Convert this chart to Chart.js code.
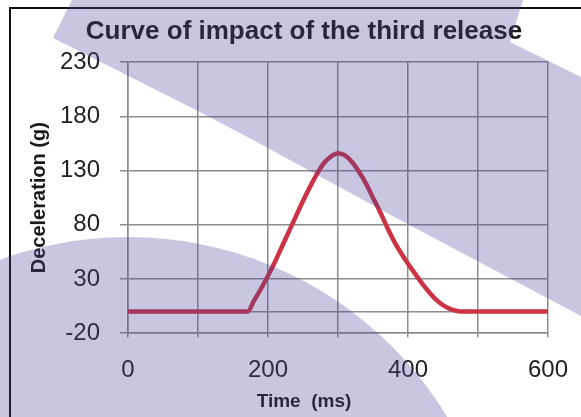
<!DOCTYPE html>
<html lang="en">
<head>
<meta charset="UTF-8">
<title>Curve of impact of the third release</title>
<script src="https://cdn.jsdelivr.net/npm/chart.js"></script>
<style>
    body { margin: 0; background: white; }
    .chart-container { width: 581px; height: 417px; position: relative; }
</style>
</head>
<body>
<div class="chart-container">
    <canvas id="impactChart"></canvas>
</div>
<script>
    // values
    const timeMs = [0, 50, 100, 150, 171, 180, 190, 200, 210, 220, 230, 240, 250, 260, 270, 280, 290, 300,
                    310, 320, 330, 340, 350, 360, 370, 380, 390, 400, 410, 420, 430, 440, 450, 460, 470, 478,
                    500, 550, 600];
    const decelG = [0, 0, 0, 0, 0, 10, 21, 33, 46, 60, 74, 88, 102, 115, 127, 137, 143, 146,
                    144, 138, 129, 118, 105, 92, 78, 65, 54, 44, 35, 26, 18, 11, 6, 2.5, 0.5, 0,
                    0, 0, 0];
    const yTicks = [-20, 0, 30, 80, 130, 180, 230];
    const yLabelTicks = [-20, 30, 80, 130, 180, 230];
    const xTicks = [0, 100, 200, 300, 400, 500, 600];
    const xLabelTicks = [0, 200, 400, 600];

    const font = "'Liberation Sans', Arial, sans-serif";
    const gridColor = '#8c8c8c';

    // frame and the lavender shapes laid over the picture
    const overlay = {
        id: 'overlay',
        beforeDraw(chart) {
            const ctx = chart.ctx;
            ctx.save();
            ctx.fillStyle = 'white';
            ctx.fillRect(0, 0, chart.width, chart.height);
            ctx.restore();
        },
        afterDraw(chart) {
            const ctx = chart.ctx;
            ctx.save();
            ctx.strokeStyle = '#111';
            ctx.lineWidth = 2;
            ctx.beginPath();
            ctx.moveTo(10, chart.height);
            ctx.lineTo(10, 8);
            ctx.lineTo(chart.width, 8);
            ctx.stroke();

            ctx.fillStyle = 'rgba(72, 65, 152, 0.3)';
            ctx.beginPath();
            ctx.moveTo(72, 0);
            ctx.lineTo(523, 0);
            ctx.lineTo(510, 42);
            ctx.lineTo(581, 77);
            ctx.lineTo(581, 316);
            ctx.lineTo(513, 280);
            ctx.lineTo(400, 220);
            ctx.lineTo(253, 140);
            ctx.lineTo(200, 112);
            ctx.lineTo(53, 38);
            ctx.closePath();
            ctx.fill();

            ctx.beginPath();
            ctx.arc(128, 610, 373, 0, Math.PI * 2);
            ctx.fill();
            ctx.restore();
        }
    };

    new Chart(document.getElementById('impactChart'), {
        type: 'line',
        data: {
            datasets: [{
                data: timeMs.map((t, i) => ({ x: t, y: decelG[i] })),
                borderColor: '#cc3344',
                borderWidth: 4.5,
                pointRadius: 0,
                cubicInterpolationMode: 'monotone',
                fill: false
            }]
        },
        options: {
            responsive: true,
            maintainAspectRatio: false,
            animation: false,
            layout: { padding: { left: 27, right: 0, top: 12, bottom: 4 } },
            plugins: {
                legend: { display: false },
                tooltip: { enabled: false },
                title: {
                    display: true,
                    text: 'Curve of impact of the third release',
                    color: '#1a1a1a',
                    font: { family: font, size: 26, weight: 'bold' },
                    padding: { top: 4, bottom: 15 }
                },
                subtitle: {
                    display: true,
                    position: 'bottom',
                    text: 'Time  (ms)',
                    color: '#1a1a1a',
                    font: { family: font, size: 19, weight: 'bold' },
                    padding: { top: 0, bottom: 0 }
                }
            },
            scales: {
                x: {
                    type: 'linear',
                    min: 0,
                    max: 600,
                    afterBuildTicks: s => { s.ticks = xTicks.map(v => ({ value: v })); },
                    afterFit: s => { s.height = 57; s.paddingRight = 33; },
                    grid: { color: gridColor, lineWidth: 1.5, tickLength: 4 },
                    border: { color: gridColor, width: 1.5 },
                    ticks: {
                        maxRotation: 0,
                        autoSkip: false,
                        padding: 19,
                        color: '#222',
                        font: { family: font, size: 24 },
                        callback: v => xLabelTicks.includes(v) ? String(v) : ''
                    }
                },
                y: {
                    type: 'linear',
                    min: -20,
                    max: 230,
                    afterBuildTicks: s => { s.ticks = yTicks.map(v => ({ value: v })); },
                    afterFit: s => { s.width = 101; },
                    grid: {
                        color: gridColor,
                        lineWidth: 1.5,
                        tickLength: 8,
                        tickColor: c => yLabelTicks.includes(c.tick.value) ? gridColor : 'rgba(0,0,0,0)'
                    },
                    border: { color: gridColor, width: 1.5 },
                    ticks: {
                        autoSkip: false,
                        padding: 20,
                        color: '#222',
                        font: { family: font, size: 24 },
                        callback: v => yLabelTicks.includes(v) ? String(v) : ''
                    },
                    title: {
                        display: true,
                        text: 'Deceleration (g)',
                        color: '#1a1a1a',
                        font: { family: font, size: 20, weight: 'bold' },
                        padding: { top: 0, bottom: 0 }
                    }
                }
            }
        },
        plugins: [overlay]
    });
</script>
</body>
</html>
